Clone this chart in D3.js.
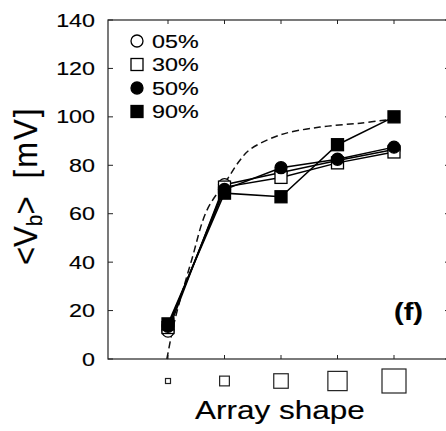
<!DOCTYPE html>
<html>
<head>
<meta charset="utf-8">
<script src="https://cdn.jsdelivr.net/npm/d3@7"></script>
<style>
  body { margin: 0; background: #fff; }
  text { font-family: 'Liberation Sans', Arial, Helvetica, sans-serif; fill: #000; stroke: #000; stroke-width: 0.15; }
</style>
</head>
<body>
<div id="chart"></div>
<script>
// array shape index (1..5) and relative size of the shape glyphs
const shapes = [1, 2, 3, 4, 5]

// <Vb> in mV for each coverage
const labels = ['05%', '30%', '50%', '90%']
const v05 = [11.5, 72, 77, 82, 86.5]
const v30 = [13, 71, 75, 81, 85.5]
const v50 = [13.5, 70, 79, 82.5, 87.5]
const v90 = [14.5, 68.5, 67, 88.5, 100]

// dashed fit curve (shape index, mV)
const fitX = [0.98, 1.12, 1.42, 1.69, 2.03, 2.27, 2.45, 2.98, 3.69, 4.4, 5.0]
const fitY = [0, 16, 41, 61.5, 73.5, 82, 86.5, 92.5, 95.8, 97.4, 99.1]

const yTicks = [0, 20, 40, 60, 80, 100, 120, 140]

const width = 446
const height = 431
const sx = 1.26 // the scanned lettering is wider than the font

const svg = d3
  .select('#chart')
  .append('svg')
  .attr('width', width)
  .attr('height', height)

const xPositionScale = d3.scaleLinear().domain([1, 5]).range([168, 394])
const yPositionScale = d3.scaleLinear().domain([0, 140]).range([359, 20])
const glyphSize = d3.scaleLinear().domain([1, 5]).range([5, 24])

const plotLeft = xPositionScale(1) - 60
const plotRight = xPositionScale(5) + 56
const plotTop = yPositionScale(140)
const plotBottom = yPositionScale(0)

function label(x, y, str, size, anchor, weight) {
  return svg
    .append('g')
    .attr('transform', `translate(${x},${y}) scale(${sx},1)`)
    .append('text')
    .attr('font-size', size)
    .attr('text-anchor', anchor)
    .attr('font-weight', weight || 'normal')
    .text(str)
}

// frame
svg
  .append('rect')
  .attr('x', plotLeft)
  .attr('y', plotTop)
  .attr('width', plotRight - plotLeft)
  .attr('height', plotBottom - plotTop)
  .attr('fill', 'none')
  .attr('stroke', '#222')
  .attr('stroke-width', 1.2)

// y ticks (inside, left and right)
yTicks.forEach(t => {
  let y = yPositionScale(t)
  svg.append('line')
    .attr('x1', plotLeft).attr('x2', plotLeft + 5)
    .attr('y1', y).attr('y2', y)
    .attr('stroke', '#222')
  svg.append('line')
    .attr('x1', plotRight - 5).attr('x2', plotRight)
    .attr('y1', y).attr('y2', y)
    .attr('stroke', '#222')
  label(95, y + 6.5, t, 18.5, 'end')
})

// x ticks (inside, top and bottom)
shapes.forEach(s => {
  let x = xPositionScale(s)
  svg.append('line')
    .attr('x1', x).attr('x2', x)
    .attr('y1', plotBottom).attr('y2', plotBottom - 4)
    .attr('stroke', '#222')
  svg.append('line')
    .attr('x1', x).attr('x2', x)
    .attr('y1', plotTop).attr('y2', plotTop + 4)
    .attr('stroke', '#222')
})

// array shape glyphs as tick labels
svg
  .selectAll('.glyph')
  .data(shapes)
  .enter()
  .append('rect')
  .attr('class', 'glyph')
  .attr('x', d => xPositionScale(d) - glyphSize(d) / 2)
  .attr('y', d => 381 - glyphSize(d) / 2)
  .attr('width', d => glyphSize(d))
  .attr('height', d => glyphSize(d))
  .attr('fill', 'white')
  .attr('stroke', '#222')
  .attr('stroke-width', 1.2)

// axis titles
label(280, 419, 'Array shape', 25, 'middle')

let yLab = svg
  .append('g')
  .attr('transform', 'translate(37,265) scale(1.08,1) rotate(-90)')
  .append('text')
  .attr('font-size', 31)
  .attr('text-anchor', 'start')
yLab.append('tspan').text('<V')
yLab.append('tspan').attr('font-size', 21).attr('dy', 5).text('b')
yLab.append('tspan').attr('dy', -5).text('>')
yLab.append('tspan').attr('dx', 18).attr('letter-spacing', 2).text('[mV]')

label(394, 320, '(f)', 23, 'start', 'bold')

// dashed fit
const fit = fitX.map((x, i) => ({ x: x, v: fitY[i] }))
const fitLine = d3
  .line()
  .x(d => xPositionScale(d.x))
  .y(d => yPositionScale(d.v))
  .curve(d3.curveCatmullRom.alpha(0.5))

svg
  .append('path')
  .attr('d', fitLine(fit))
  .attr('fill', 'none')
  .attr('stroke', '#111')
  .attr('stroke-width', 1.5)
  .attr('stroke-dasharray', '7,4')

// series
const series = [
  { key: labels[0], values: v05, shape: 'circle', fill: 'white' },
  { key: labels[1], values: v30, shape: 'square', fill: 'white' },
  { key: labels[2], values: v50, shape: 'circle', fill: 'black' },
  { key: labels[3], values: v90, shape: 'square', fill: 'black' }
]

const line = d3
  .line()
  .x((d, i) => xPositionScale(shapes[i]))
  .y(d => yPositionScale(d))

function marker(g, x, y, d) {
  if (d.shape === 'circle') {
    g.append('circle')
      .attr('cx', x).attr('cy', y).attr('r', 6)
      .attr('fill', d.fill)
      .attr('stroke', 'black')
      .attr('stroke-width', 1.3)
  } else {
    g.append('rect')
      .attr('x', x - 6).attr('y', y - 6)
      .attr('width', 12).attr('height', 12)
      .attr('fill', d.fill)
      .attr('stroke', 'black')
      .attr('stroke-width', 1.3)
  }
}

series.forEach(d => {
  let g = svg.append('g')
  g.append('path')
    .attr('d', line(d.values))
    .attr('fill', 'none')
    .attr('stroke', 'black')
    .attr('stroke-width', 1.5)
  d.values.forEach((v, i) => {
    marker(g, xPositionScale(shapes[i]), yPositionScale(v), d)
  })
})

// legend
let legend = svg.append('g')
series.forEach((d, i) => {
  let y = 41 + i * 23.5
  marker(legend, 137, y, d)
  label(152, y + 6.5, d.key, 18.5, 'start')
})
</script>
</body>
</html>
